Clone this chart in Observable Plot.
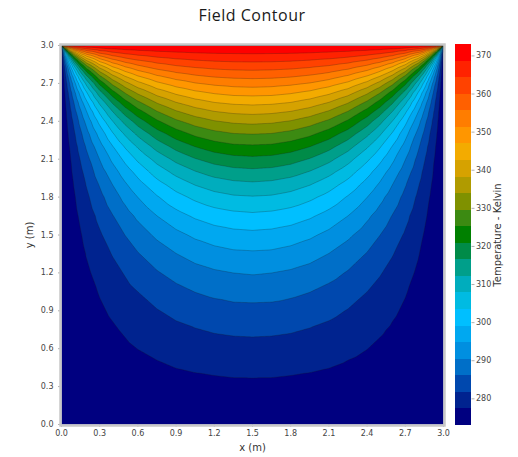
<!DOCTYPE html>
<html><head><meta charset="utf-8">
<script src="https://cdn.jsdelivr.net/npm/d3@7"></script>
<script src="https://cdn.jsdelivr.net/npm/@observablehq/plot@0.6"></script>
<style>
body{margin:0;background:#fff;width:518px;height:457px;position:relative;overflow:hidden}
#title{position:absolute;left:0;top:4px;width:504px;height:30px;line-height:33px;text-align:center;font:16px "Open Sans",sans-serif;letter-spacing:0.5px;color:#1a1a1a}
#main{position:absolute;left:0;top:30px}
#bar{position:absolute;left:448px;top:30px}
svg g[aria-label$="axis tick"]{stroke:#b0b0b0}
svg g[aria-label$="axis label"] text{font-size:10px;fill:#333}
</style></head><body>
<div id="title">Field Contour</div>
<div id="main"></div><div id="bar"></div>
<script>
// grid coordinates (m)
const xGrid = [0,0.01,0.03,0.06,0.1,0.15,0.2,0.3,0.4,0.5,0.6,0.75,0.9,1.05,1.2,1.35,1.5,1.65,1.8,1.95,2.1,2.25,2.4,2.5,2.6,2.7,2.8,2.85,2.9,2.94,2.97,2.99,3.0];
const yGrid = [3.0,2.99,2.97,2.94,2.91,2.88,2.84,2.8,2.75,2.7,2.625,2.55,2.475,2.4,2.3,2.2,2.1,2.0,1.9,1.8,1.65,1.5,1.35,1.2,1.05,0.9,0.75,0.6,0.45,0.3,0.15,0];
// temperature (K), one row per yGrid value
const temperature = [
[323,373,373,373,373,373,373,373,373,373,373,373,373,373,373,373,373,373,373,373,373,373,373,373,373,373,373,373,373,373,373,373,323],
[273,323,352.5,362.5,366.6,368.7,369.8,370.8,371.4,371.7,371.9,372.1,372.2,372.2,372.3,372.3,372.3,372.3,372.3,372.2,372.2,372.1,371.9,371.7,371.4,370.8,369.8,368.7,366.6,362.5,352.5,323,273],
[273,293.5,323,343.5,354.4,360.4,363.4,366.5,368.1,369,369.6,370.2,370.5,370.7,370.9,371,371,371,370.9,370.7,370.5,370.2,369.6,369,368.1,366.5,363.4,360.4,354.4,343.5,323,293.5,273],
[273,283.5,302.5,323,338.5,348.7,354.3,360.2,363.2,365,366.2,367.3,368,368.5,368.8,368.9,369,368.9,368.8,368.5,368,367.3,366.2,365,363.2,360.2,354.3,348.7,338.5,323,302.5,283.5,273],
[273,280,293.5,310.4,326.2,338.4,345.9,354.1,358.5,361.1,362.8,364.5,365.6,366.2,366.7,366.9,367,366.9,366.7,366.2,365.6,364.5,362.8,361.1,358.5,354.1,345.9,338.4,326.2,310.4,293.5,280,273],
[273,278.3,288.6,302.4,317.1,329.8,338.3,348.3,353.9,357.3,359.5,361.7,363.1,364,364.6,364.9,365,364.9,364.6,364,363.1,361.7,359.5,357.3,353.9,348.3,338.3,329.8,317.1,302.4,288.6,278.3,273],
[273,277,284.7,295.7,308.4,320.7,329.7,341.2,348,352.3,355.2,358.1,359.9,361,361.8,362.2,362.3,362.2,361.8,361,359.9,358.1,355.2,352.3,348,341.2,329.7,320.7,308.4,295.7,284.7,277,273],
[273,276.2,282.4,291.4,302.3,313.6,322.5,334.8,342.5,347.5,351,354.5,356.7,358.1,359,359.5,359.7,359.5,359,358.1,356.7,354.5,351,347.5,342.5,334.8,322.5,313.6,302.3,291.4,282.4,276.2,273],
[273,275.5,280.5,287.8,296.9,307,315.3,327.9,336.2,341.9,346,350.1,352.8,354.5,355.6,356.2,356.4,356.2,355.6,354.5,352.8,350.1,346,341.9,336.2,327.9,315.3,307,296.9,287.8,280.5,275.5,273],
[273,275.1,279.2,285.3,293.1,302,309.7,321.9,330.6,336.7,341.2,345.9,348.9,351,352.2,352.9,353.2,352.9,352.2,351,348.9,345.9,341.2,336.7,330.6,321.9,309.7,302,293.1,285.3,279.2,275.1,273],
[273,274.7,277.9,282.8,289.1,296.5,303.3,314.6,323.2,329.7,334.6,339.9,343.4,345.8,347.3,348.2,348.4,348.2,347.3,345.8,343.4,339.9,334.6,329.7,323.2,314.6,303.3,296.5,289.1,282.8,277.9,274.7,273],
[273,274.4,277.1,281.1,286.4,292.7,298.6,308.8,317.1,323.6,328.7,334.3,338.2,340.8,342.6,343.5,343.8,343.5,342.6,340.8,338.2,334.3,328.7,323.6,317.1,308.8,298.6,292.7,286.4,281.1,277.1,274.4,273],
[273,274.2,276.4,279.9,284.4,289.8,294.9,304.2,311.9,318.3,323.4,329.2,333.3,336.1,338,339,339.4,339,338,336.1,333.3,329.2,323.4,318.3,311.9,304.2,294.9,289.8,284.4,279.9,276.4,274.2,273],
[273,274,276,278.9,282.8,287.5,292.1,300.4,307.6,313.6,318.6,324.5,328.7,331.6,333.6,334.7,335.1,334.7,333.6,331.6,328.7,324.5,318.6,313.6,307.6,300.4,292.1,287.5,282.8,278.9,276,274,273],
[273,273.8,275.5,278,281.2,285.2,289.1,296.3,302.8,308.4,313.1,318.8,323,326.1,328.1,329.3,329.6,329.3,328.1,326.1,323,318.8,313.1,308.4,302.8,296.3,289.1,285.2,281.2,278,275.5,273.8,273],
[273,273.7,275.1,277.2,280,283.4,286.8,293.1,298.8,303.9,308.3,313.8,317.9,320.9,323,324.2,324.5,324.2,323,320.9,317.9,313.8,308.3,303.9,298.8,293.1,286.8,283.4,280,277.2,275.1,273.7,273],
[273,273.6,274.8,276.6,279,282,284.9,290.5,295.6,300.2,304.2,309.3,313.3,316.2,318.2,319.4,319.8,319.4,318.2,316.2,313.3,309.3,304.2,300.2,295.6,290.5,284.9,282,279,276.6,274.8,273.6,273],
[273,273.5,274.6,276.2,278.3,280.8,283.4,288.3,292.8,296.9,300.6,305.4,309.1,311.9,313.9,315,315.4,315,313.9,311.9,309.1,305.4,300.6,296.9,292.8,288.3,283.4,280.8,278.3,276.2,274.6,273.5,273],
[273,273.5,274.4,275.8,277.6,279.9,282.1,286.4,290.4,294.2,297.5,301.9,305.3,308,309.8,310.9,311.3,310.9,309.8,308,305.3,301.9,297.5,294.2,290.4,286.4,282.1,279.9,277.6,275.8,274.4,273.5,273],
[273,273.4,274.2,275.4,277,279,281,284.8,288.4,291.7,294.8,298.7,302,304.4,306.2,307.2,307.5,307.2,306.2,304.4,302,298.7,294.8,291.7,288.4,284.8,281,279,277,275.4,274.2,273.4,273],
[273,273.3,274,275,276.3,278,279.6,282.8,285.8,288.6,291.2,294.7,297.5,299.7,301.2,302.1,302.5,302.1,301.2,299.7,297.5,294.7,291.2,288.6,285.8,282.8,279.6,278,276.3,275,274,273.3,273],
[273,273.3,273.8,274.7,275.8,277.1,278.5,281.2,283.7,286.1,288.3,291.2,293.6,295.5,296.9,297.7,298,297.7,296.9,295.5,293.6,291.2,288.3,286.1,283.7,281.2,278.5,277.1,275.8,274.7,273.8,273.3,273],
[273,273.2,273.7,274.4,275.3,276.4,277.6,279.8,281.9,283.9,285.8,288.2,290.3,292,293.1,293.9,294.1,293.9,293.1,292,290.3,288.2,285.8,283.9,281.9,279.8,277.6,276.4,275.3,274.4,273.7,273.2,273],
[273,273.2,273.6,274.1,274.9,275.9,276.8,278.6,280.4,282,283.6,285.7,287.4,288.8,289.8,290.4,290.7,290.4,289.8,288.8,287.4,285.7,283.6,282,280.4,278.6,276.8,275.9,274.9,274.1,273.6,273.2,273],
[273,273.2,273.5,273.9,274.6,275.3,276.1,277.6,279.1,280.5,281.7,283.5,284.9,286.1,286.9,287.5,287.6,287.5,286.9,286.1,284.9,283.5,281.7,280.5,279.1,277.6,276.1,275.3,274.6,273.9,273.5,273.2,273],
[273,273.1,273.4,273.8,274.3,274.9,275.5,276.8,277.9,279.1,280.1,281.5,282.7,283.7,284.4,284.8,284.9,284.8,284.4,283.7,282.7,281.5,280.1,279.1,277.9,276.8,275.5,274.9,274.3,273.8,273.4,273.1,273],
[273,273.1,273.3,273.6,274,274.5,275,276,276.9,277.8,278.7,279.8,280.8,281.5,282.1,282.4,282.5,282.4,282.1,281.5,280.8,279.8,278.7,277.8,276.9,276,275,274.5,274,273.6,273.3,273.1,273],
[273,273.1,273.2,273.5,273.8,274.2,274.5,275.3,276,276.7,277.4,278.2,279,279.6,280,280.3,280.4,280.3,280,279.6,279,278.2,277.4,276.7,276,275.3,274.5,274.2,273.8,273.5,273.2,273.1,273],
[273,273.1,273.2,273.3,273.6,273.8,274.1,274.7,275.2,275.7,276.2,276.8,277.4,277.8,278.1,278.3,278.4,278.3,278.1,277.8,277.4,276.8,276.2,275.7,275.2,274.7,274.1,273.8,273.6,273.3,273.2,273.1,273],
[273,273,273.1,273.2,273.4,273.6,273.7,274.1,274.4,274.8,275.1,275.5,275.9,276.1,276.3,276.5,276.5,276.5,276.3,276.1,275.9,275.5,275.1,274.8,274.4,274.1,273.7,273.6,273.4,273.2,273.1,273,273],
[273,273,273.1,273.1,273.2,273.3,273.4,273.5,273.7,273.9,274,274.2,274.4,274.5,274.7,274.7,274.7,274.7,274.7,274.5,274.4,274.2,274,273.9,273.7,273.5,273.4,273.3,273.2,273.1,273.1,273,273],
[273,273,273,273,273,273,273,273,273,273,273,273,273,273,273,273,273,273,273,273,273,273,273,273,273,273,273,273,273,273,273,273,273]
];
// contour levels (K): 23 equal bands between 273 and 373
const levels = [273,277.35,281.70,286.04,290.39,294.74,299.09,303.43,307.78,312.13,316.48,320.83,325.17,329.52,333.87,338.22,342.57,346.91,351.26,355.61,359.96,364.30,368.65,373];
// band colours, low to high
const bandColors = ["#000080","#00238f","#0048ae","#006fc8","#008fe0","#00a8f0","#00bfff","#00bbe2","#00adbd","#009f8a","#008b48","#008000","#3c8a12","#7f9100","#b09b00","#d6a200","#f3ab00","#ff9600","#ff7d00","#ff6000","#ff4200","#ff2200","#ff0000"];
const axisTicks = [0,0.3,0.6,0.9,1.2,1.5,1.8,2.1,2.4,2.7,3.0];
const barTicks = [280,290,300,310,320,330,340,350,360,370];

const points = [];
yGrid.forEach((y, i) => xGrid.forEach((x, j) => points.push({x, y, t: temperature[i][j]})));
const bands = bandColors.map((c, i) => ({lo: levels[i], hi: levels[i + 1]}));
const colorScale = {type: "threshold", domain: levels.slice(1, 23), range: bandColors};
const font = {fontFamily: "DejaVu Sans, sans-serif", fontSize: "8px", color: "#444", background: "transparent"};

const main = Plot.plot({
  width: 518, height: 427,
  marginTop: 15, marginBottom: 33, marginLeft: 61, marginRight: 75,
  style: font,
  x: {domain: [0, 3], ticks: axisTicks, tickFormat: ".1f", tickSize: 3, tickPadding: 3, label: "x (m)", labelAnchor: "center", labelOffset: 26, labelArrow: "none"},
  y: {domain: [0, 3], ticks: axisTicks, tickFormat: ".1f", tickSize: 3, tickPadding: 5, label: "y (m)", labelAnchor: "center", labelOffset: 36, labelArrow: "none"},
  color: colorScale,
  marks: [
    Plot.frame({fill: bandColors[0]}),
    Plot.contour(points, {x: "x", y: "y", fill: "t", thresholds: levels.slice(1, 23), interpolate: "barycentric", pixelSize: 1}),
    Plot.contour(points, {x: "x", y: "y", value: "t", thresholds: levels.slice(1, 23), interpolate: "barycentric", pixelSize: 1, fill: "none", stroke: "#1a1a1a", strokeOpacity: 0.3, strokeWidth: 0.8}),
    Plot.frame({stroke: "#c8c8c8", strokeWidth: 2.5, inset: -1})
  ]
});
document.getElementById("main").append(main);

const bar = Plot.plot({
  width: 70, height: 427,
  marginTop: 14, marginBottom: 32, marginLeft: 7, marginRight: 47.5,
  style: font,
  x: {domain: [0, 1], axis: null},
  y: {domain: [273, 373], ticks: barTicks, tickSize: 3, tickPadding: 2, axis: "right", label: "Temperature - Kelvin", labelAnchor: "center", labelOffset: 30, labelArrow: "none"},
  color: colorScale,
  marks: [
    Plot.rect(bands, {x1: 0, x2: 1, y1: "lo", y2: "hi", fill: "lo", shapeRendering: "crispEdges"})
  ]
});
document.getElementById("bar").append(bar);
</script></body></html>
